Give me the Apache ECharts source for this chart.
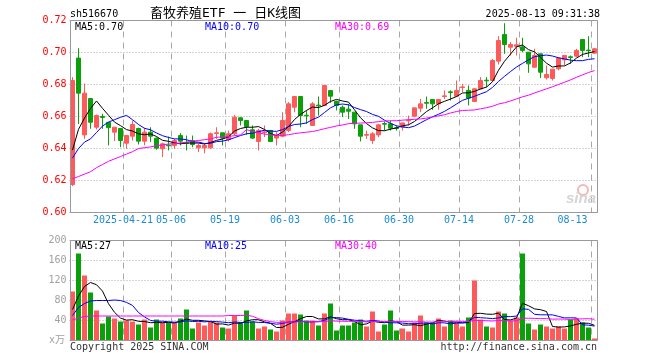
<!DOCTYPE html>
<html><head><meta charset="utf-8">
<script src="https://cdn.jsdelivr.net/npm/echarts@6/dist/echarts.min.js"></script>
<style>html,body{margin:0;padding:0;background:#fff}#c{width:660px;height:360px}</style>
</head><body><div id="c"></div>
<script>
const dates = ['2025-04-08','2025-04-09','2025-04-10','2025-04-11','2025-04-14','2025-04-15','2025-04-16','2025-04-17','2025-04-18','2025-04-21','2025-04-22','2025-04-23','2025-04-24','2025-04-25','2025-04-28','2025-04-29','2025-04-30',
'2025-05-06','2025-05-07','2025-05-08','2025-05-09','2025-05-12','2025-05-13','2025-05-14','2025-05-15','2025-05-16','2025-05-19','2025-05-20','2025-05-21','2025-05-22','2025-05-23','2025-05-26','2025-05-27','2025-05-28','2025-05-29','2025-05-30',
'2025-06-03','2025-06-04','2025-06-05','2025-06-06','2025-06-09','2025-06-10','2025-06-11','2025-06-12','2025-06-13','2025-06-16','2025-06-17','2025-06-18','2025-06-19','2025-06-20','2025-06-23','2025-06-24','2025-06-25','2025-06-26','2025-06-27','2025-06-30',
'2025-07-01','2025-07-02','2025-07-03','2025-07-04','2025-07-07','2025-07-08','2025-07-09','2025-07-10','2025-07-11','2025-07-14','2025-07-15','2025-07-16','2025-07-17','2025-07-18','2025-07-21','2025-07-22','2025-07-23','2025-07-24','2025-07-25','2025-07-28','2025-07-29','2025-07-30','2025-07-31',
'2025-08-01','2025-08-04','2025-08-05','2025-08-06','2025-08-07','2025-08-08','2025-08-11','2025-08-12','2025-08-13'];

const tickDates = ['2025-04-21','2025-05-06','2025-05-19','2025-06-03','2025-06-16','2025-06-30','2025-07-14','2025-07-28','2025-08-13'];
const tickLabels = ['2025-04-21','05-06','05-19','06-03','06-16','06-30','07-14','07-28','08-13'];

const openPrices = [0.6175,0.6965,0.6485,0.6712,0.6533,0.6600,0.6563,0.6502,0.6525,0.6433,
0.6477,0.6525,0.6446,0.6502,0.6464,0.6398,0.6421,0.6419,0.6481,0.6435,
0.6450,0.6404,0.6404,0.6404,0.6494,0.6498,0.6456,0.6492,0.6592,0.6575,
0.6517,0.6444,0.6500,0.6513,0.6465,0.6477,0.6513,0.6658,0.6725,0.6608,
0.6544,0.6671,0.6669,0.6762,0.6694,0.6658,0.6646,0.6627,0.6548,0.6483,
0.6450,0.6485,0.6556,0.6554,0.6529,0.6533,0.6573,0.6602,0.6652,0.6687,
0.6706,0.6679,0.6725,0.6754,0.6727,0.6781,0.6763,0.6694,0.6773,0.6827,
0.6825,0.6946,0.7113,0.7033,0.7038,0.7035,0.7002,0.6908,0.6992,0.6842,
0.6838,0.6898,0.6954,0.6973,0.6977,0.7081,0.7015,0.6996];
const closePrices = [0.6825,0.6746,0.6746,0.6564,0.6606,0.6594,0.6530,0.6533,0.6450,0.6481,
0.6550,0.6446,0.6502,0.6477,0.6402,0.6429,0.6417,0.6450,0.6446,0.6431,
0.6425,0.6419,0.6419,0.6492,0.6498,0.6465,0.6492,0.6596,0.6575,0.6538,
0.6465,0.6513,0.6504,0.6444,0.6481,0.6575,0.6679,0.6725,0.6606,0.6604,
0.6679,0.6667,0.6794,0.6727,0.6669,0.6627,0.6633,0.6554,0.6477,0.6487,
0.6492,0.6548,0.6552,0.6527,0.6525,0.6560,0.6577,0.6654,0.6679,0.6683,
0.6679,0.6706,0.6729,0.6750,0.6763,0.6785,0.6715,0.6773,0.6825,0.6823,
0.6950,0.7075,0.7050,0.7050,0.7048,0.7013,0.6929,0.6981,0.6877,0.6863,
0.6896,0.6965,0.6981,0.6969,0.7013,0.7013,0.7011,0.7023];
const lowPrices = [0.6165,0.6554,0.6460,0.6523,0.6519,0.6523,0.6419,0.6446,0.6408,0.6398,
0.6450,0.6425,0.6420,0.6440,0.6392,0.6346,0.6388,0.6398,0.6419,0.6388,
0.6408,0.6377,0.6370,0.6398,0.6460,0.6419,0.6444,0.6481,0.6544,0.6485,
0.6460,0.6388,0.6471,0.6440,0.6419,0.6471,0.6502,0.6627,0.6533,0.6554,
0.6544,0.6606,0.6667,0.6685,0.6638,0.6596,0.6585,0.6523,0.6444,0.6460,
0.6429,0.6471,0.6512,0.6512,0.6512,0.6512,0.6544,0.6596,0.6627,0.6648,
0.6642,0.6642,0.6710,0.6700,0.6721,0.6752,0.6669,0.6690,0.6769,0.6783,
0.6825,0.6925,0.6992,0.6981,0.6981,0.7002,0.6873,0.6908,0.6840,0.6831,
0.6825,0.6888,0.6919,0.6929,0.6971,0.6971,0.6971,0.6992];
const highPrices = [0.6846,0.7027,0.6806,0.6715,0.6612,0.6617,0.6565,0.6535,0.6528,0.6485,
0.6575,0.6530,0.6530,0.6533,0.6470,0.6436,0.6475,0.6460,0.6496,0.6481,
0.6481,0.6430,0.6433,0.6500,0.6533,0.6500,0.6512,0.6610,0.6594,0.6577,
0.6544,0.6523,0.6544,0.6515,0.6502,0.6627,0.6690,0.6727,0.6727,0.6638,
0.6690,0.6725,0.6796,0.6762,0.6700,0.6669,0.6679,0.6627,0.6548,0.6512,
0.6502,0.6554,0.6569,0.6575,0.6544,0.6560,0.6606,0.6654,0.6710,0.6725,
0.6706,0.6706,0.6763,0.6763,0.6825,0.6804,0.6794,0.6777,0.6846,0.6846,
0.6960,0.7102,0.7183,0.7065,0.7092,0.7092,0.7002,0.7023,0.6992,0.6919,
0.6898,0.6971,0.6981,0.6981,0.7023,0.7081,0.7102,0.7029];

const volumes = [98,174,130,96,60,34,48,44,38,40,
38,32,42,26,42,36,36,36,44,62,
24,36,30,38,36,26,24,50,36,60,
38,24,28,22,18,40,54,54,52,40,
40,30,54,74,20,30,30,36,42,28,
58,18,32,60,20,24,18,36,50,36,
36,44,28,40,36,28,46,120,42,28,
26,58,54,40,46,174,34,22,32,28,
24,28,24,42,44,36,26,4];

// moving-average values for days whose window starts before the first shown day
const ma5Head = [0.639,0.652,0.659,0.665];
const ma10Head = [0.634,0.640,0.644,0.646,0.650,0.654,0.6565,0.658,0.6595];
const ma30Head = [0.621,0.6225,0.624,0.6255,0.628,0.630,0.632,0.6335,0.635,0.6365,0.638,0.640,0.6405,0.641,0.6418,0.6422,0.6428,0.643,0.6435,0.644,0.6446,0.645,0.6455,0.646,0.647,0.6472,0.6475,0.648,0.6485];
const volMa5Head = [62,89,108,116];
const volMa10Head = [50,66,74,79,80,80,80,81,80];
const volMa30Head = [41,45,48,49,49,49,49,49,49,49,49,49,49,49,49,49,49,49,49,49,49,49,49,49,49,49,50,50,50];

function movingAverage(values, n, head, digits) {
  return values.map((v, i) => {
    if (i < n - 1) return head[i];
    let s = 0;
    for (let k = i - n + 1; k <= i; k++) s += values[k];
    return +(s / n).toFixed(digits);
  });
}

const UP = '#ff5a5a', DOWN = '#0aa00a';
const GRID_C = '#a8a8a8';
const MONO = '"DejaVu Sans Mono", monospace';
const XLAB = '#1b8bd4';

const kData = openPrices.map((o, i) => [o, closePrices[i], lowPrices[i], highPrices[i]]);
const volData = volumes.map((v, i) => ({ value: v, itemStyle: { color: closePrices[i] >= openPrices[i] ? UP : DOWN } }));

const isTick = (idx, val) => tickDates.indexOf(val) >= 0;

const chart = echarts.init(document.getElementById('c'), null, { renderer: 'canvas' });

function lineSeries(data, color, xi, yi) {
  return { type: 'line', data, xAxisIndex: xi, yAxisIndex: yi, showSymbol: false, symbol: 'none', silent: true,
    lineStyle: { color, width: 1 }, itemStyle: { color }, z: 5 };
}

function txt(text, x, y, fill, font, align) {
  return { type: 'text', silent: true, z: 100, style: { text, x, y, fill, font: font || ('10px ' + MONO),
    textAlign: align || 'left', align: align || 'left', textVerticalAlign: 'middle', verticalAlign: 'middle' } };
}

const xBase = {
  type: 'category', data: dates, boundaryGap: true,
  axisLine: { show: false }, axisTick: { show: false },
  splitLine: { show: true, interval: isTick, lineStyle: { color: GRID_C, type: [6, 5], width: 1 } }
};

chart.setOption({
  animation: false,
  backgroundColor: '#fff',
  grid: [
    { left: 69.5, top: 20.5, width: 528, height: 192, show: false },
    { left: 69.5, top: 240.5, width: 528, height: 100, show: false }
  ],
  xAxis: [
    Object.assign({}, xBase, { gridIndex: 0,
      axisLabel: { show: true, interval: isTick, color: XLAB, fontFamily: MONO, fontSize: 10, margin: 3,
        formatter: (val) => {
          const k = tickDates.indexOf(val);
          return (k === tickDates.length - 1 ? '{e|' : '{n|') + tickLabels[k] + '}';
        },
        rich: {
          n: { color: XLAB, fontFamily: MONO, fontSize: 10, padding: [0, 7, 0, 0] },
          e: { color: XLAB, fontFamily: MONO, fontSize: 10, padding: [0, 44, 0, 0] }
        } } }),
    Object.assign({}, xBase, { gridIndex: 1, axisLabel: { show: false } })
  ],
  yAxis: [
    { type: 'value', gridIndex: 0, min: 0.60, max: 0.72, interval: 0.02, scale: true,
      axisLine: { show: false }, axisTick: { show: false },
      axisLabel: { color: '#ff0000', fontFamily: MONO, fontSize: 10, margin: 3, formatter: v => v.toFixed(2) },
      splitLine: { show: true, lineStyle: { color: GRID_C, type: [1, 2], width: 1 } } },
    { type: 'value', gridIndex: 1, min: 0, max: 200, interval: 40,
      axisLine: { show: false }, axisTick: { show: false },
      axisLabel: { color: '#a0a0a0', fontFamily: MONO, fontSize: 10, margin: 3, formatter: v => v === 0 ? '' : String(v) },
      splitLine: { show: true, lineStyle: { color: GRID_C, type: [1, 2], width: 1 } } }
  ],
  series: [
    { type: 'candlestick', xAxisIndex: 0, yAxisIndex: 0, data: kData, barWidth: 4, silent: true, z: 3,
      itemStyle: { color: UP, color0: DOWN, borderColor: UP, borderColor0: DOWN, borderWidth: 1 } },
    lineSeries(movingAverage(closePrices, 5, ma5Head, 4), '#000000', 0, 0),
    lineSeries(movingAverage(closePrices, 10, ma10Head, 4), '#0000ff', 0, 0),
    lineSeries(movingAverage(closePrices, 30, ma30Head, 4), '#ff00ff', 0, 0),
    { type: 'bar', xAxisIndex: 1, yAxisIndex: 1, data: volData, barWidth: 5, silent: true, z: 3 },
    lineSeries(movingAverage(volumes, 5, volMa5Head, 2), '#000000', 1, 1),
    lineSeries(movingAverage(volumes, 10, volMa10Head, 2), '#0000ff', 1, 1),
    lineSeries(movingAverage(volumes, 30, volMa30Head, 2), '#ff00ff', 1, 1)
  ],
  graphic: [
    { type: 'rect', silent: true, z: 90, shape: { x: 70.5, y: 20.5, width: 527, height: 192 }, style: { fill: null, stroke: '#999', lineWidth: 1 } },
    { type: 'rect', silent: true, z: 90, shape: { x: 70.5, y: 240.5, width: 527, height: 100 }, style: { fill: null, stroke: '#999', lineWidth: 1 } },
    txt('sh516670', 70, 14, '#000'),
    txt('畜牧养殖ETF 一 日K线图', 150, 14, '#000', '13px "DejaVu Sans Mono", "Noto Sans CJK SC", sans-serif'),
    txt('2025-08-13 09:31:38', 600, 14, '#000', null, 'right'),
    txt('MA5:0.70', 75, 27, '#000'),
    txt('MA10:0.70', 205, 27, '#0000ff'),
    txt('MA30:0.69', 335, 27, '#ff00ff'),
    txt('MA5:27', 75, 246, '#000'),
    txt('MA10:25', 205, 246, '#0000ff'),
    txt('MA30:40', 335, 246, '#ff00ff'),
    txt('x万', 49, 340, '#a0a0a0', '10px "DejaVu Sans Mono", "Noto Sans CJK SC", monospace'),
    txt('Copyright 2025 SINA.COM', 70, 347, '#333'),
    txt('http://finance.sina.com.cn', 597, 347, '#333', null, 'right'),
    { type: 'circle', silent: true, z: 95, shape: { cx: 583, cy: 190, r: 5 }, style: { fill: null, stroke: '#f2b8b8', lineWidth: 2 } },
    txt('sina', 566, 199, '#d5d5d5', 'italic bold 15px "Liberation Sans", Arial, sans-serif')
  ]
});
</script></body></html>
